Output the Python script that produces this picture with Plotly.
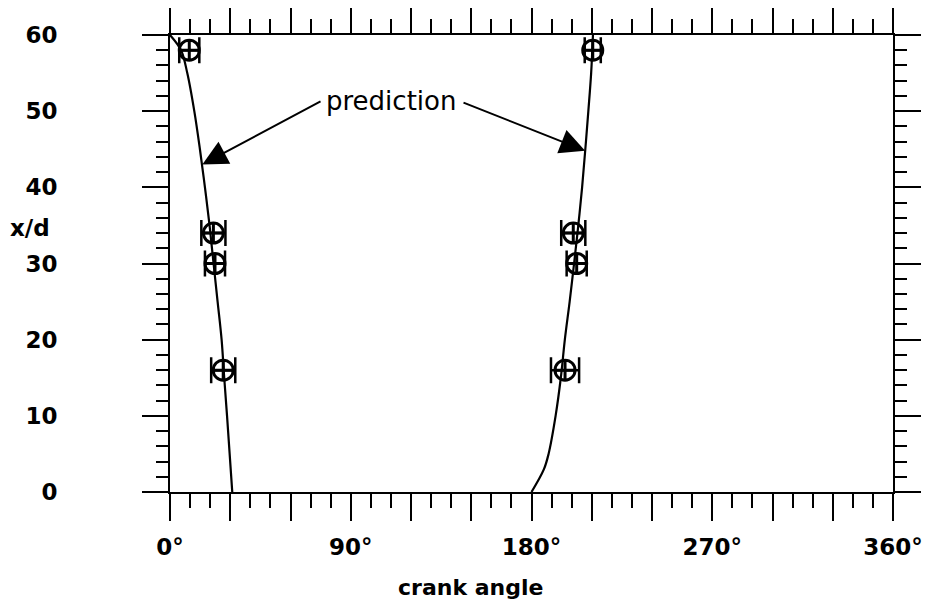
import plotly.graph_objects as go

# prediction curves (x/d vs crank angle, degrees)
xd_pred = [0, 5, 10, 15, 20, 25, 30, 35, 40, 45, 50, 55, 58, 60]
angle_pred_1 = [31.0, 29.7, 28.4, 27.0, 25.7, 23.7, 21.7, 19.7, 17.4, 14.9, 12.1, 8.6, 5.5, 0.0]
xd_pred_2 = [0, 3, 5, 10, 15, 20, 25, 30, 35, 40, 45, 50, 55, 60]
angle_pred_2 = [180.0, 186.2, 188.5, 192.0, 194.6, 196.6, 199.0, 201.2, 203.3, 205.2, 206.8, 208.3, 209.7, 210.6]

# measured arrival (x/d stations)
xd_meas = [58, 34, 30, 16]
angle_meas_1 = [9.6, 21.6, 22.4, 26.5]
angle_meas_2 = [210.5, 200.8, 202.5, 196.7]
err_1 = [5, 6, 5, 6]
err_2 = [4, 6, 5, 7]

x_ticks = [0, 30, 60, 90, 120, 150, 180, 210, 240, 270, 300, 330, 360]
x_labels = ["0°", "", "", "90°", "", "", "180°", "", "", "270°", "", "", "360°"]
y_ticks = [0, 10, 20, 30, 40, 50, 60]

font = dict(family="DejaVu Sans, Arial, sans-serif", size=23, color="black", weight="bold")

fig = go.Figure()
for xs, ys in [(angle_pred_1, xd_pred), (angle_pred_2, xd_pred_2)]:
    fig.add_trace(go.Scatter(x=xs, y=ys, mode="lines", line=dict(color="black", width=2.2),
                             line_shape="spline", showlegend=False))

for xs, err in [(angle_meas_1, err_1), (angle_meas_2, err_2)]:
    fig.add_trace(go.Scatter(
        x=xs, y=xd_meas, mode="markers", showlegend=False,
        marker=dict(symbol="circle-cross-open", size=20, color="black", line=dict(width=3)),
        error_x=dict(type="data", array=err, color="black", thickness=2.5, width=13),
    ))

axis_common = dict(showline=True, linecolor="black", linewidth=2, mirror="allticks",
                   ticks="outside", tickcolor="black", tickwidth=2, showgrid=False,
                   zeroline=False, tickfont=font, automargin=False)

fig.update_xaxes(range=[0, 360], tickvals=x_ticks, ticktext=x_labels, ticklen=27,
                 ticklabelstandoff=6,
                 minor=dict(dtick=10, ticklen=14, tickwidth=2, tickcolor="black", ticks="outside"),
                 **axis_common)
fig.update_yaxes(range=[0, 60], tickvals=y_ticks, ticktext=[str(v) for v in y_ticks],
                 ticklen=26, ticklabelstandoff=80,
                 minor=dict(dtick=2, ticklen=12, tickwidth=2, tickcolor="black", ticks="outside"),
                 **axis_common)

fig.add_annotation(x=16.1, y=43.0, ax=75.7, ay=51.4, axref="x", ayref="y", text="",
                   showarrow=True, arrowhead=2, arrowsize=2.5, arrowwidth=2, arrowcolor="black")
fig.add_annotation(x=206.7, y=44.8, ax=145.4, ay=51.2, axref="x", ayref="y", text="",
                   showarrow=True, arrowhead=2, arrowsize=2.5, arrowwidth=2, arrowcolor="black")
fig.add_annotation(x=110.0, y=51.4, text="prediction", showarrow=False,
                   font=dict(family="DejaVu Sans, Arial, sans-serif", size=26, color="black"))
# axis titles
fig.add_annotation(xref="paper", yref="paper", x=-0.193, y=0.578, text="x/d", showarrow=False,
                   xanchor="center", font=font)
fig.add_annotation(xref="paper", yref="paper", x=0.415, y=-0.21, text="crank angle",
                   showarrow=False, xanchor="center", yanchor="middle", font=dict(font, size=22))

# page body has an 8px margin, so the figure is drawn 8px smaller
fig.update_layout(width=924, height=608, margin=dict(l=162, r=39, t=27, b=124),
                  plot_bgcolor="white", paper_bgcolor="white")
fig.write_html("out.html")
